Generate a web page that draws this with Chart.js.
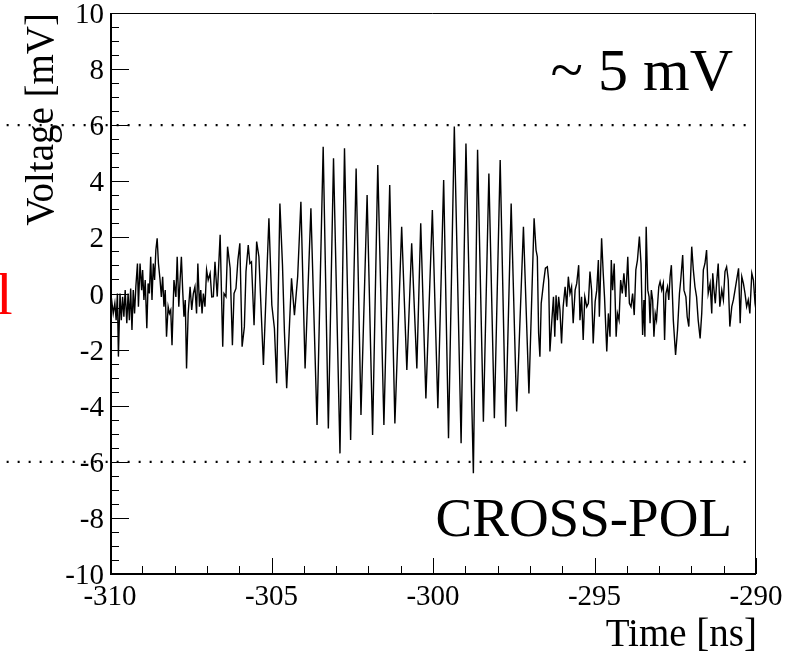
<!DOCTYPE html>
<html lang="en">
<head>
	<meta charset="utf-8">
	<title>CROSS-POL waveform</title>
	<script src="https://cdn.jsdelivr.net/npm/chart.js"></script>
	<style>
		html, body { margin: 0; padding: 0; background: #fff; overflow: hidden; }
		#myChart { display: block; }
	</style>
</head>
<body>
	<canvas id="myChart" width="803" height="654"></canvas>

<script>
	// trace: time in ns, voltage in mV
	const timeNs = [
		-310.00,-309.95,-309.90,-309.85,-309.81,-309.77,-309.74,-309.69,-309.65,-309.61,
		-309.57,-309.53,-309.48,-309.44,-309.40,-309.36,-309.32,-309.28,-309.24,-309.20,
		-309.15,-309.12,-309.07,-309.02,-308.99,-308.95,-308.91,-308.86,-308.82,-308.78,
		-308.74,-308.70,-308.66,-308.62,-308.58,-308.54,-308.50,-308.45,-308.41,-308.37,
		-308.33,-308.29,-308.25,-308.20,-308.16,-308.12,-308.08,-308.02,-307.96,-307.92,
		-307.87,-307.83,-307.79,-307.75,-307.71,-307.67,-307.63,-307.58,-307.52,-307.47,
		-307.42,-307.37,-307.32,-307.28,-307.23,-307.19,-307.15,-307.11,-307.06,-307.01,
		-306.96,-306.90,-306.85,
		-306.80,-306.75,-306.68,-306.59,-306.51,-306.47,-306.41,-306.36,-306.28,-306.21,
		-306.16,-306.10,-306.04,-305.98,-305.91,-305.84,-305.79,-305.72,-305.67,-305.62,
		-305.54,
		-305.46,-305.39,-305.25,-305.08,-304.99,-304.91,-304.84,-304.74,-304.66,-304.60,
		-304.53,-304.38,-304.29,-304.19,-304.09,-303.96,-303.78,-303.59,-303.40,-303.24,
		-303.08,-302.88,-302.74,-302.55,-302.38,-302.23,-302.04,-301.87,-301.71,-301.52,
		-301.34,-301.18,-300.97,-300.81,-300.66,-300.50,-300.38,-300.22,-300.02,-299.85,
		-299.67,-299.52,-299.34,-299.13,-298.98,-298.75,-298.62,-298.44,-298.27,-298.10,
		-297.92,-297.75,-297.58,-297.41,-297.20,-297.03,-296.87,
		-296.81,-296.77,-296.73,-296.69,-296.65,-296.58,-296.52,-296.46,-296.42,-296.38,
		-296.32,-296.27,-296.23,-296.19,-296.15,-296.11,-296.07,-296.02,-295.97,-295.91,
		-295.86,-295.81,-295.76,-295.71,-295.66,-295.60,-295.55,-295.49,-295.45,-295.40,
		-295.35,-295.30,-295.24,-295.19,-295.14,-295.09,-295.04,-294.98,-294.93,-294.88,
		-294.85,-294.78,-294.73,-294.69,-294.62,-294.57,-294.52,-294.48,-294.44,-294.39,
		-294.33,-294.29,-294.24,-294.19,-294.14,-294.09,-294.03,-293.97,-293.92,-293.87,
		-293.82,-293.77,-293.72,-293.67,-293.61,
		-293.56,-293.51,-293.47,-293.44,-293.40,-293.35,-293.31,-293.28,-293.24,-293.20,
		-293.16,-293.12,-293.08,-293.01,-292.97,-292.92,-292.87,-292.83,-292.79,-292.74,
		-292.70,-292.66,-292.62,-292.56,-292.49,-292.43,-292.37,-292.33,-292.27,-292.23,
		-292.17,-292.13,-292.08,-292.04,-291.99,-291.94,-291.89,-291.84,-291.79,-291.73,
		-291.68,-291.63,-291.58,-291.53,-291.48,-291.42,-291.37,-291.34,-291.30,-291.26,
		-291.22,-291.17,-291.12,-291.06,-291.01,-290.96,-290.91,-290.86,-290.81,-290.75,
		-290.70,-290.65,-290.60,-290.54,-290.49,-290.44,-290.39,-290.34,-290.29,-290.24,
		-290.19,-290.13,-290.08,-290.03,-290.00
	];
	const voltMv = [
		-0.47,-0.23,-0.71,-0.35,-0.95,0.00,-2.25,0.00,-0.95,-0.12,
		-0.83,0.12,-1.06,0.00,-0.95,0.18,-1.30,0.12,-0.71,0.24,
		1.07,-0.47,1.07,0.12,0.84,-0.23,0.48,-1.24,0.36,0.00,
		1.31,-0.23,1.07,0.48,1.55,1.97,1.07,0.48,-0.12,0.60,
		-0.47,0.12,-1.54,-0.47,-0.71,-0.59,-1.84,0.48,-0.12,1.31,
		-0.47,0.48,1.31,0.12,-0.83,-0.23,-2.67,-0.71,0.24,-0.59,
		0.00,0.24,-0.71,1.07,-0.47,0.12,-0.71,0.00,-0.47,0.84,
		0.48,0.72,-0.12,
		-0.11,1.13,-0.11,2.09,-1.90,0.00,-0.11,1.67,0.90,-1.84,
		0.00,0.18,1.19,1.79,-1.90,-1.19,0.78,1.73,1.07,1.13,
		-1.13,
		1.85,1.31,-2.55,2.68,-0.41,-1.24,-3.20,3.21,1.02,-1.36,
		-3.38,0.54,-0.77,0.60,3.27,-2.67,3.04,-4.69,5.23,-4.81,
		4.82,-5.70,5.18,-5.22,4.46,-4.33,3.51,-5.04,4.58,-4.69,
		3.87,-4.63,2.38,-2.73,1.79,-2.67,2.50,-3.74,2.98,-4.09,
		4.05,-5.16,5.95,-5.34,5.35,-6.41,5.12,-4.57,4.28,-4.45,
		4.76,-4.75,3.21,-4.21,2.38,-3.56,2.68,
		1.55,1.31,-1.42,-2.25,-0.35,0.36,0.90,0.95,0.48,-2.07,
		-0.95,-0.12,-1.54,-0.06,-0.95,-0.12,-0.59,-1.78,-0.47,0.24,
		-0.47,0.60,0.00,0.24,-1.06,0.12,0.36,1.01,-0.95,-0.12,
		-1.66,-0.12,-0.47,-0.35,0.78,0.12,-1.78,-0.29,0.12,1.19,
		-0.83,1.97,0.72,-0.12,-2.07,-0.71,-1.54,1.19,0.12,1.07,
		-1.54,-0.71,-0.95,0.48,0.00,0.72,-0.12,1.31,-0.35,-0.47,
		0.00,-0.77,0.84,1.19,2.03,
		1.07,-1.48,-0.23,-1.54,2.38,0.12,-0.12,-1.06,0.12,-0.23,
		-1.54,-0.71,-0.95,0.24,0.42,0.12,0.36,-1.66,0.00,0.24,
		-0.23,0.60,1.01,-0.95,-2.19,-1.30,0.00,0.48,1.37,0.12,
		-0.12,-0.83,-1.18,0.12,1.67,0.84,0.24,-0.12,-0.95,-1.60,
		-0.71,0.84,1.07,1.55,0.00,0.36,-0.71,0.72,0.12,-0.35,
		0.36,1.07,-0.47,0.12,-0.23,0.78,0.95,0.48,-1.18,-0.47,
		-0.23,0.12,0.48,0.90,-1.06,0.60,0.36,0.00,-0.47,-0.23,
		-0.71,0.72,0.48,-0.35,-0.59
	];

	const xTickValues = [-310, -305, -300, -295, -290];
	const xTickLabels = ['-310', '-305', '-300', '-295', '-290'];
	const yTickValues = [-10, -8, -6, -4, -2, 0, 2, 4, 6, 8, 10];
	const yTickLabels = ['-10', '-8', '-6', '-4', '-2', '0', '2', '4', '6', '8', '10'];

	// dotted guide lines at +-6 mV, they start left of the frame
	const guideLevels = [6, -6];
	const guideFrom = -313.2;
	const guideTo = -290.2;

	const SERIF = '"Liberation Serif", "Times New Roman", serif';

	// ROOT-like frame: inward ticks, labels, titles and the text boxes
	const rootFrame = {
		id: 'rootFrame',
		afterDatasetsDraw(chart) {
			const ctx = chart.ctx;
			const xs = chart.scales.x;
			const ys = chart.scales.y;
			const a = chart.chartArea;
			ctx.save();
			ctx.strokeStyle = '#000';
			ctx.fillStyle = '#000';

			// thin top / right edge
			ctx.lineWidth = 1;
			ctx.beginPath();
			ctx.moveTo(a.left, a.top + 0.5);
			ctx.lineTo(a.right - 0.5, a.top + 0.5);
			ctx.lineTo(a.right - 0.5, a.bottom);
			ctx.stroke();

			// axes
			ctx.lineWidth = 2;
			ctx.beginPath();
			ctx.moveTo(a.left + 1, a.top);
			ctx.lineTo(a.left + 1, a.bottom);
			ctx.lineTo(a.right, a.bottom);
			ctx.stroke();

			// x ticks, minor every 1 ns
			ctx.lineWidth = 1;
			ctx.beginPath();
			for (let i = 0; i <= 20; i++) {
				const px = Math.round(xs.getPixelForValue(xs.min + i)) + 0.5;
				const len = (i % 5 == 0) ? 16 : 8;
				ctx.moveTo(px, a.bottom);
				ctx.lineTo(px, a.bottom - len);
			}
			// y ticks, minor every 0.5 mV
			for (let i = 0; i <= 40; i++) {
				const py = Math.round(ys.getPixelForValue(ys.min + i * 0.5)) + 0.5;
				const len = (i % 4 == 0) ? 19 : 9;
				ctx.moveTo(a.left, py);
				ctx.lineTo(a.left + len, py);
			}
			ctx.stroke();

			// tick labels
			ctx.font = '29px ' + SERIF;
			ctx.textBaseline = 'alphabetic';
			ctx.textAlign = 'right';
			yTickValues.forEach((v, i) => {
				ctx.fillText(yTickLabels[i], a.left - 6, ys.getPixelForValue(v) + 10);
			});
			ctx.textAlign = 'center';
			xTickValues.forEach((v, i) => {
				ctx.fillText(xTickLabels[i], xs.getPixelForValue(v), 605);
			});

			// axis titles
			ctx.font = '39px ' + SERIF;
			ctx.textAlign = 'right';
			ctx.fillText('Time [ns]', 757, 646);
			ctx.save();
			ctx.translate(53, a.top);
			ctx.rotate(-Math.PI / 2);
			ctx.fillText('Voltage [mV]', 0, 0);
			ctx.restore();

			// annotations
			ctx.font = '60px ' + SERIF;
			ctx.fillText('~ 5 mV', 733, 90);
			ctx.font = '55px ' + SERIF;
			ctx.fillText('CROSS-POL', 732, 536);

			// cut-off letter at the left edge
			ctx.fillStyle = '#ff0000';
			ctx.font = '60px ' + SERIF;
			ctx.textAlign = 'left';
			ctx.fillText('l', -4, 314);

			ctx.restore();
		}
	};

	const tracePoints = timeNs.map((t, i) => ({ x: t, y: voltMv[i] }));

	const guideSets = guideLevels.map(level => ({
		data: [{ x: guideFrom, y: level }, { x: guideTo, y: level }],
		borderColor: '#000',
		borderWidth: 2.2,
		borderDash: [2, 9],
		pointRadius: 0,
		clip: false
	}));

	const config = {
		type: 'line',
		data: {
			datasets: [
				{
					data: tracePoints,
					borderColor: '#000',
					borderWidth: 1.4,
					pointRadius: 0,
					tension: 0
				},
				...guideSets
			]
		},
		options: {
			responsive: false,
			animation: false,
			events: [],
			layout: { padding: { left: 110, top: 13, right: 47, bottom: 80 } },
			plugins: { legend: { display: false }, tooltip: { enabled: false } },
			scales: {
				x: { type: 'linear', min: -310, max: -290, display: false },
				y: { type: 'linear', min: -10, max: 10, display: false }
			}
		},
		plugins: [rootFrame]
	};

	const myChart = new Chart(document.getElementById('myChart'), config);
</script>
</body>
</html>
